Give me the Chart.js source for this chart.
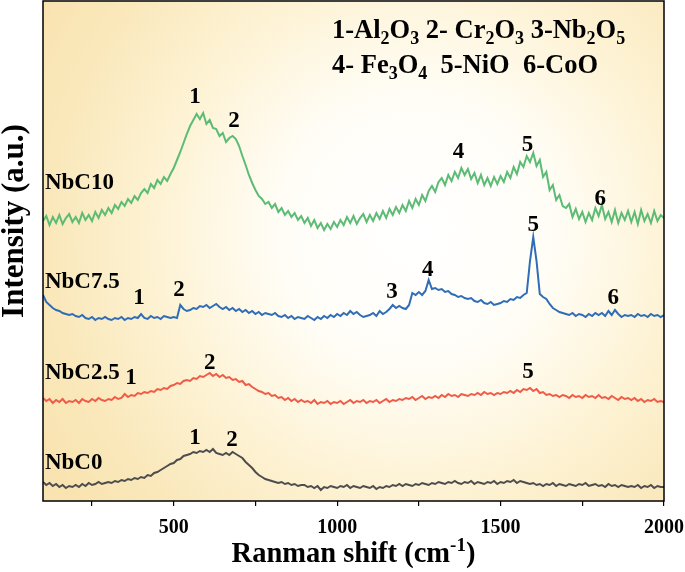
<!DOCTYPE html>
<html><head><meta charset="utf-8">
<script src="https://cdn.jsdelivr.net/npm/chart.js@4.4.0/dist/chart.umd.min.js"></script>
<style>html,body{margin:0;padding:0;background:#fff;}#wrap{width:685px;height:572px;}</style>
</head><body><div id="wrap"><canvas id="c" width="685" height="572"></canvas></div>
<script>
// Raman shift (cm-1)
const ramanShift = [
100,110,120,130,140,150,160,170,180,190,
200,210,220,230,240,250,260,270,280,290,
300,310,320,330,340,350,360,370,380,390,
400,410,420,430,440,450,460,470,480,490,
500,510,520,530,540,550,560,570,580,590,
600,610,620,630,640,650,660,670,680,690,
700,710,720,730,740,750,760,770,780,790,
800,810,820,830,840,850,860,870,880,890,
900,910,920,930,940,950,960,970,980,990,
1000,1010,1020,1030,1040,1050,1060,1070,1080,1090,
1100,1110,1120,1130,1140,1150,1160,1170,1180,1190,
1200,1210,1220,1230,1240,1250,1260,1270,1280,1290,
1300,1310,1320,1330,1340,1350,1360,1370,1380,1390,
1400,1410,1420,1430,1440,1450,1460,1470,1480,1490,
1500,1510,1520,1530,1540,1550,1560,1570,1580,1590,
1600,1610,1620,1630,1640,1650,1660,1670,1680,1690,
1700,1710,1720,1730,1740,1750,1760,1770,1780,1790,
1800,1810,1820,1830,1840,1850,1860,1870,1880,1890,
1900,1910,1920,1930,1940,1950,1960,1970,1980,1990,
2000];

// Intensity (a.u., stacked)
const nbc10 = [
280,285,276,284,278,286,277,283,287,279,
284,278,288,281,286,280,289,283,291,286,
293,288,296,292,299,295,302,298,305,301,
308,312,308,317,313,321,317,324,320,327,
333,341,349,358,367,375,381,387,382,388,
377,381,373,372,365,368,359,363,365,362,
355,345,336,326,318,311,305,302,297,299,
293,297,289,293,286,290,284,288,281,285,
278,283,275,281,273,278,271,277,272,279,
274,281,276,284,278,285,277,283,287,279,
286,280,288,282,290,283,292,286,294,288,
296,290,300,293,302,296,306,300,310,315,
309,319,323,316,326,320,329,323,333,326,
332,322,328,318,326,316,323,315,324,317,
325,319,329,323,334,327,339,334,345,339,
348,335,341,324,329,311,316,301,306,295,
293,297,284,292,282,289,279,288,281,293,
285,296,282,289,279,291,278,288,281,290,
279,289,277,291,280,287,278,290,280,286,
283];

const nbc75 = [
206,199,196,193,191,190,188,187,186,187,
185,184,186,183,182,184,181,183,182,184,
182,181,183,182,184,181,183,182,184,183,
187,183,182,185,183,184,182,185,184,183,
184,183,196,192,190,191,193,192,195,194,
196,193,195,197,194,192,194,191,193,190,
192,189,191,188,190,187,189,186,188,187,
186,188,185,184,186,183,185,182,184,183,
182,185,183,181,184,182,185,183,186,184,
187,185,188,186,190,187,189,186,184,185,
186,188,185,190,187,189,192,196,193,195,
193,192,196,208,206,209,206,210,221,212,
213,211,212,209,210,207,206,204,205,203,
202,203,200,199,201,198,197,199,196,197,
198,200,199,202,201,204,203,206,208,240,
264,240,207,204,202,197,193,191,189,188,
187,186,188,185,187,186,184,187,185,188,
186,188,185,190,186,191,187,184,186,185,
186,184,187,185,186,184,187,185,186,184,
186];

const nbc25 = [
103,100,102,98,101,99,102,98,100,99,
101,98,102,100,99,102,100,103,101,100,
102,101,104,102,103,107,104,106,105,108,
107,109,108,110,109,112,111,113,112,115,
116,118,117,120,121,120,123,122,125,124,
126,128,125,127,124,126,123,124,121,122,
119,120,116,117,114,112,110,109,107,108,
105,106,103,104,101,103,100,102,99,101,
99,100,98,101,97,99,98,100,97,99,
98,100,97,99,101,98,100,99,101,98,
100,99,101,98,100,102,99,101,100,102,
101,103,102,104,101,103,105,102,104,103,
105,103,106,104,107,105,106,104,107,106,
105,107,106,108,106,109,107,108,106,108,
107,109,108,110,108,111,109,112,111,113,
110,112,108,109,106,107,105,106,104,106,
105,103,106,104,105,103,106,104,105,103,
106,103,104,102,105,103,101,104,102,103,
101,103,100,102,99,101,100,102,99,100,
99];

const nbc0 = [
19,16,18,15,17,14,16,13,15,14,
16,14,17,15,18,16,17,19,17,18,
19,18,20,19,21,20,22,21,23,22,
24,23,26,25,28,29,31,33,35,37,
38,41,42,45,46,47,49,48,50,49,
51,49,52,48,47,46,48,46,49,47,
45,43,39,36,33,29,26,24,22,21,
20,19,18,19,17,18,16,17,15,16,
16,14,15,13,15,11,14,13,15,14,
13,15,14,16,13,15,14,13,15,14,
13,15,12,14,13,15,14,16,15,17,
15,17,16,15,17,16,18,17,16,18,
17,19,18,17,19,18,20,18,17,19,
18,20,17,19,18,17,19,18,20,17,
19,18,20,19,21,18,20,19,18,17,
18,16,17,15,17,16,18,15,17,16,
15,17,16,15,17,16,18,15,16,17,
15,16,14,17,15,16,14,16,15,14,
15,14,16,13,15,14,16,13,15,14,
14];

const seriesNames = ['NbC10','NbC7.5','NbC2.5','NbC0'];
const seriesColors = ['#5cbb74','#2f6db6','#ef5b47','#4d4d4d'];
const nameShift = [106,106,106,106];
const nameHeight = [318,219,128,38];

// peak markers
const peakText   = ['1','2','4','5','6', '1','2','3','4','5','6', '1','2','5', '1','2'];
const peakShift  = [565,684,1371,1582,1805, 394,516,1168,1277,1600,1845, 369,610,1584, 565,678];
const peakHeight = [404,380,349,356,302, 203,211,209,231,276,203, 123,138,129, 63,61];

const xTicks = [250,500,750,1000,1250,1500,1750,2000];

const SERIF = '"Liberation Serif","Times New Roman",serif';

function pts(arr){ return ramanShift.map((x,i)=>({x:x,y:arr[i]})); }

function drawRich(ctx, parts, x, y, size){
  let cx = x;
  for (const p of parts){
    const mode = p[1] || 'n';
    let fs = size, dy = 0;
    if (mode==='sub'){ fs = Math.round(size*0.68); dy = size*0.22; }
    if (mode==='sup'){ fs = Math.round(size*0.68); dy = -size*0.38; }
    ctx.font = 'bold ' + fs + 'px ' + SERIF;
    ctx.fillText(p[0], cx, y+dy);
    cx += ctx.measureText(p[0]).width;
  }
  return cx - x;
}
function richWidth(ctx, parts, size){
  let w=0;
  for (const p of parts){
    const mode = p[1]||'n';
    const fs = mode==='n'?size:Math.round(size*0.68);
    ctx.font = 'bold ' + fs + 'px ' + SERIF;
    w += ctx.measureText(p[0]).width;
  }
  return w;
}

const legendLine1 = [['1-Al'],['2','sub'],['O'],['3','sub'],[' 2- Cr'],['2','sub'],['O'],['3','sub'],[' 3-Nb'],['2','sub'],['O'],['5','sub']];
const legendLine2 = [['4- Fe'],['3','sub'],['O'],['4','sub'],['  5-NiO  6-CoO']];
const xTitle = [['Ranman shift (cm'],['-1','sup'],[')']];

const decor = {
  id:'decor',
  beforeDraw(chart){
    const ctx = chart.ctx, a = chart.chartArea;
    ctx.save();
    ctx.fillStyle = '#ffffff';
    ctx.fillRect(0,0,chart.width,chart.height);
    const cx = a.left+0.6*(a.right-a.left), cy = a.top+0.46*(a.bottom-a.top);
    const g = ctx.createRadialGradient(cx, cy, 10, cx, cy, 430);
    g.addColorStop(0,'#ffffff');
    g.addColorStop(0.3,'#fffdf6');
    g.addColorStop(0.6,'#fdf2d3');
    g.addColorStop(0.85,'#fae8bb');
    g.addColorStop(1,'#f9e4b1');
    ctx.fillStyle = g;
    ctx.fillRect(a.left,a.top,a.right-a.left,a.bottom-a.top);
    ctx.restore();
  },
  afterDraw(chart){
    const ctx = chart.ctx, a = chart.chartArea;
    const xs = chart.scales.x, ys = chart.scales.y;
    ctx.save();
    ctx.strokeStyle = '#000'; ctx.lineWidth = 1.5;
    ctx.strokeRect(a.left, a.top, a.right-a.left, a.bottom-a.top);
    ctx.fillStyle = '#000';
    ctx.textBaseline = 'middle';
    // series names
    ctx.textAlign = 'left';
    ctx.font = 'bold 23px ' + SERIF;
    seriesNames.forEach((n,i)=>{
      ctx.fillText(n, xs.getPixelForValue(nameShift[i]), ys.getPixelForValue(nameHeight[i]));
    });
    // peak labels
    ctx.textAlign = 'center';
    ctx.font = 'bold 23px ' + SERIF;
    peakText.forEach((t,i)=>{
      ctx.fillText(t, xs.getPixelForValue(peakShift[i]), ys.getPixelForValue(peakHeight[i]));
    });
    // legend text
    ctx.textAlign = 'left';
    ctx.textBaseline = 'alphabetic';
    drawRich(ctx, legendLine1, a.left+289, a.top+37, 26.5);
    drawRich(ctx, legendLine2, a.left+289, a.top+72, 26.5);
    // x title
    const w = richWidth(ctx, xTitle, 28.5);
    drawRich(ctx, xTitle, (a.left+a.right)/2 - w/2, 562, 28.5);
    // y title
    ctx.translate(15, (a.top+a.bottom)/2 - 30);
    ctx.rotate(-Math.PI/2);
    ctx.textAlign = 'center';
    ctx.textBaseline = 'middle';
    ctx.font = 'bold 31px ' + SERIF;
    ctx.fillText('Intensity (a.u.)', 0, 0);
    ctx.restore();
  }
};

const mk = (arr,i)=>({label:seriesNames[i], data:pts(arr), borderColor:seriesColors[i], borderWidth:2,
  pointRadius:0, fill:false, tension:0});

new Chart(document.getElementById('c'), {
  type:'line',
  data:{ datasets:[ mk(nbc0,3), mk(nbc25,2), mk(nbc75,1), mk(nbc10,0) ] },
  options:{
    responsive:false, animation:false, devicePixelRatio:1,
    layout:{padding:{top:1,right:21,left:0,bottom:0}},
    plugins:{legend:{display:false}, tooltip:{enabled:false}},
    scales:{
      x:{ type:'linear', min:100, max:2000,
        afterBuildTicks:(s)=>{ s.ticks = xTicks.map(v=>({value:v})); },
        afterFit:(s)=>{ s.height = 71; s.paddingLeft = 0; s.paddingRight = 0; },
        ticks:{ autoSkip:false, maxRotation:0, color:'#000', padding:10,
          font:{family:SERIF, weight:'bold', size:20},
          callback:(v)=> (v%500===0 ? String(v) : '') },
        grid:{ display:true, drawOnChartArea:false, drawTicks:true, tickLength:5, color:'#000', lineWidth:1.2 },
        border:{ display:false }
      },
      y:{ min:0, max:500,
        afterFit:(s)=>{ s.width = 43; s.paddingTop = 0; s.paddingBottom = 0; },
        ticks:{ display:false },
        grid:{ display:false, drawTicks:false },
        border:{ display:false }
      }
    }
  },
  plugins:[decor]
});
</script></body></html>
